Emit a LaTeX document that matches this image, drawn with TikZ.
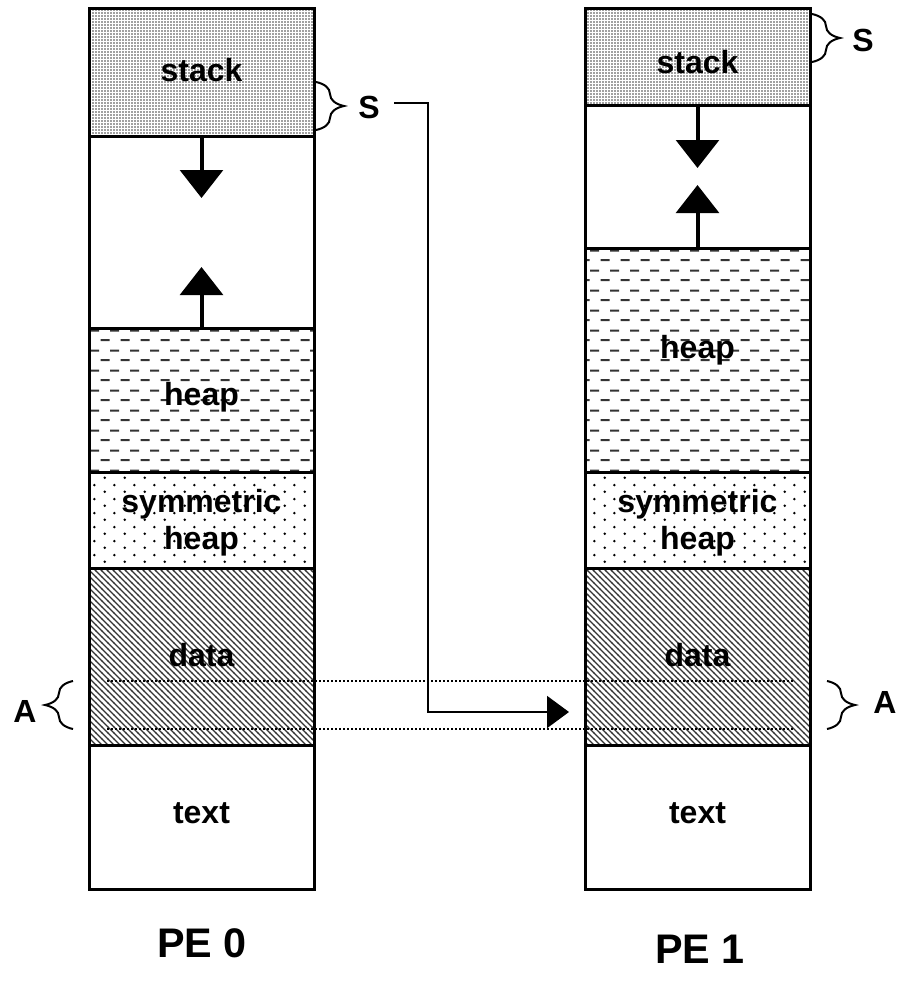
\documentclass[tikz,border=0pt]{standalone}
\usepackage{fontspec}
\setmainfont{Liberation Sans}
\usetikzlibrary{arrows.meta,patterns,fit,decorations.pathreplacing}

% fill patterns for the memory segments
\pgfdeclarepatternformonly{stackdots}{\pgfqpoint{-1pt}{-1pt}}{\pgfqpoint{1pt}{1pt}}{\pgfqpoint{2.25pt}{2.25pt}}{%
  \pgfpathcircle{\pgfqpoint{0pt}{0pt}}{0.64pt}\pgfusepath{fill}}
\pgfdeclarepatternformonly{symdots}{\pgfqpoint{0pt}{0pt}}{\pgfqpoint{15pt}{10.5pt}}{\pgfqpoint{15pt}{10.5pt}}{%
  \pgfpathcircle{\pgfqpoint{3.75pt}{2.625pt}}{1.1pt}%
  \pgfpathcircle{\pgfqpoint{11.25pt}{7.875pt}}{1.1pt}\pgfusepath{fill}}
\pgfdeclarepatternformonly{heapdash}{\pgfqpoint{0pt}{0pt}}{\pgfqpoint{15pt}{15pt}}{\pgfqpoint{15pt}{15pt}}{%
  \pgfsetlinewidth{1.6pt}%
  \pgfpathmoveto{\pgfqpoint{0.5pt}{3.75pt}}\pgfpathlineto{\pgfqpoint{7.5pt}{3.75pt}}%
  \pgfpathmoveto{\pgfqpoint{8pt}{11.25pt}}\pgfpathlineto{\pgfqpoint{15pt}{11.25pt}}%
  \pgfusepath{stroke}}
\pgfdeclarepatternformonly{datalines}{\pgfqpoint{-1pt}{-1pt}}{\pgfqpoint{5.5pt}{5.5pt}}{\pgfqpoint{4.5pt}{4.5pt}}{%
  \pgfsetlinewidth{0.9pt}%
  \pgfpathmoveto{\pgfqpoint{-0.2pt}{4.7pt}}\pgfpathlineto{\pgfqpoint{4.7pt}{-0.2pt}}\pgfusepath{stroke}}

\begin{document}
\begin{tikzpicture}[x=0.75pt,y=-0.75pt,
  seg/.style={draw=black,line width=2.25pt,inner sep=0pt},
  lbl/.style={font=\fontsize{24}{28}\selectfont\bfseries,align=center,inner sep=0pt},
  pe/.style={font=\fontsize{31}{36}\selectfont\bfseries,inner sep=0pt},
  growarrow/.style={line width=3pt,-{Triangle[length=21pt,width=32pt]}},
  conn/.style={line width=1.5pt,-{Triangle[length=16.5pt,width=24pt]}},
  bracket/.style={decorate,decoration={brace,amplitude=21pt},line width=1.5pt},
  guide/.style={line width=1.5pt,dash pattern=on 1.5pt off 1.5pt}]
\useasboundingbox (0,0) rectangle (900,985);

% ---- PE 0 address space ----
\node[seg,pattern=stackdots,pattern color=black!75,fit={(89,8)(314,136)}] (stackL) {};
\node[seg,fit={(89,136)(314,328)}] (freeL) {};
\node[seg,pattern=heapdash,pattern color=black!80,fit={(89,328)(314,472)}] (heapL) {};
\node[seg,pattern=symdots,fit={(89,472)(314,568)}] (symL) {};
\node[seg,pattern=datalines,pattern color=black!80,fit={(89,568)(314,745)}] (dataL) {};
\node[seg,fit={(89,745)(314,889)}] (textL) {};

% ---- PE 1 address space ----
\node[seg,pattern=stackdots,pattern color=black!75,fit={(585,8)(810,105)}] (stackR) {};
\node[seg,fit={(585,105)(810,248)}] (freeR) {};
\node[seg,pattern=heapdash,pattern color=black!80,fit={(585,248)(810,472)}] (heapR) {};
\node[seg,pattern=symdots,fit={(585,472)(810,568)}] (symR) {};
\node[seg,pattern=datalines,pattern color=black!80,fit={(585,568)(810,745)}] (dataR) {};
\node[seg,fit={(585,745)(810,889)}] (textR) {};

% segment labels
\node[lbl] (tStackL) at (201.5,70) {stack};
\node[lbl] (tHeapL) at (201.5,397) {heap};
\node[lbl] (tSymL) at (201.5,523) {symmetric\\heap};
\node[lbl] (tDataL) at (201.5,655) {data};
\node[lbl] (tTextL) at (201.5,813) {text};
\node[lbl] (tStackR) at (697.5,62) {stack};
\node[lbl] (tHeapR) at (697.5,350) {heap};
\node[lbl] (tSymR) at (697.5,523) {symmetric\\heap};
\node[lbl] (tDataR) at (697.5,655) {data};
\node[lbl] (tTextR) at (697.5,813) {text};

% stack and heap growth
\coordinate (dnL) at (201.5,198);
\coordinate (upL) at (201.5,267);
\coordinate (dnR) at (697.5,168);
\coordinate (upR) at (697.5,185);
\draw[growarrow] (stackL.south) -- (dnL);
\draw[growarrow] (heapL.north) -- (upL);
\draw[growarrow] (stackR.south) -- (dnR);
\draw[growarrow] (heapR.north) -- (upR);

% symmetric object A in the data segment
\coordinate (aTopL) at (107,681);
\coordinate (aTopR) at (795,681);
\coordinate (aBotL) at (107,729);
\coordinate (aBotR) at (795,729);
\draw[guide] (aTopL) -- (aTopR);
\draw[guide] (aBotL) -- (aBotR);
\draw[bracket] (73,729) -- (73,681);
\node[lbl] (aL) at (25,711) {A};
\draw[bracket] (827,681) -- (827,729);
\node[lbl] (aR) at (885,702) {A};

% stack size S
\draw[bracket] (316,82) -- (316,130);
\node[lbl] (sL) at (369,107) {S};
\draw[bracket] (812,14) -- (812,62);
\node[lbl] (sR) at (863,40) {S};

% transfer from PE 0 to A on PE 1
\coordinate (sOut) at (394,103);
\coordinate (aIn) at (569,712);
\draw[conn] (sOut) -- (428,103) |- (aIn);

% PE names
\node[pe] (pe0) at (202,943) {PE 0};
\node[pe] (pe1) at (700,949) {PE 1};
\end{tikzpicture}
\end{document}
